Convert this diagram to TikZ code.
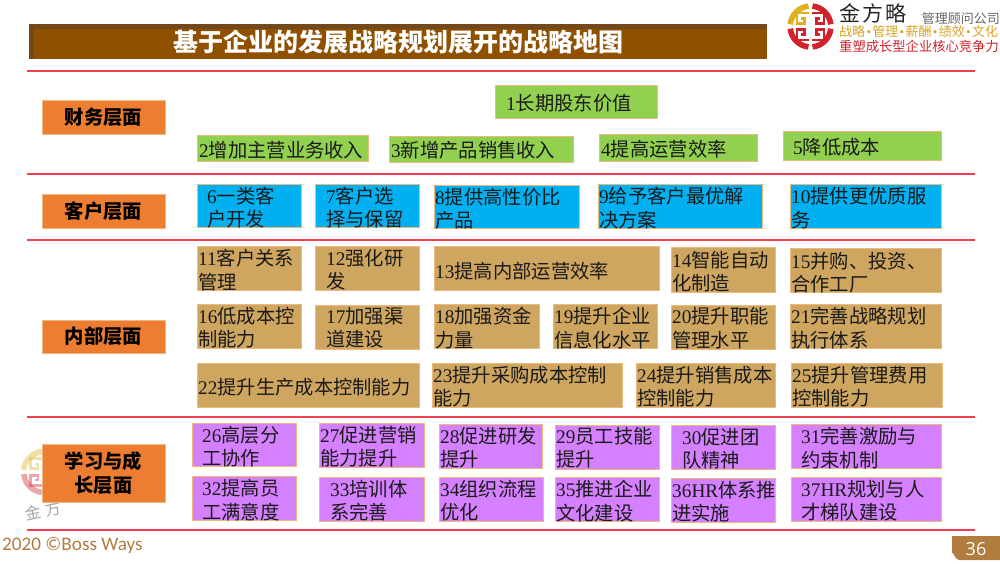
\documentclass[tikz,border=0pt]{standalone}
\usepackage{fontspec}
\setmainfont{Liberation Serif}
\newfontfamily\cjk{Noto Sans CJK SC}
\newfontfamily\uifont{Open Sans}
\newfontfamily\footfont{Carlito}
\definecolor{barbrown}{HTML}{8F5100}
\definecolor{bardark}{HTML}{73481A}
\definecolor{rule}{HTML}{F0414F}
\definecolor{edge}{HTML}{EDB97F}
\definecolor{fin}{HTML}{92D050}
\definecolor{cus}{HTML}{00B0F0}
\definecolor{int}{HTML}{CFA660}
\definecolor{lrn}{HTML}{D580FF}
\definecolor{lab}{HTML}{ED7D31}
\definecolor{ink}{HTML}{1A1A1A}
\definecolor{bronze}{HTML}{B07D3F}
\definecolor{logored}{HTML}{D2232A}
\definecolor{logoyel}{HTML}{E0B01E}
\tikzset{
  stagebox/.style={draw=edge,line width=1pt,inner sep=0pt,outer sep=0pt},
  stagetext/.style={anchor=west,inner sep=0pt,align=left,text=ink,
    font=\cjk\fontsize{19.3}{23.3}\selectfont},
  layerbox/.style={stagebox,fill=lab,align=center,text=black,
    font=\cjk\bfseries\fontsize{19.3}{24.5}\selectfont},
  redrule/.style={draw=rule,line width=1.3pt},
}
% number, x0,y0,x1,y1, text x, text centre y, fill, text
\newcommand{\bx}[9]{%
  \node[stagebox,fill=#8,minimum width={#4-#2},minimum height={#5-#3}] (b#1) at ({(#2+#4)/2},{(#3+#5)/2}) {};
  \node[stagetext] (t#1) at (#6,#7) {{\rmfamily #1}#9};
}
\newcommand{\layerb}[6]{%
  \node[layerbox,minimum width={#4-#2},minimum height={#5-#3}] (#1) at ({(#2+#4)/2},{(#3+#5)/2}) {#6};
}
\newcommand{\dotsep}{\makebox[7.2pt]{\rmfamily\textbullet}}
% logo quadrant in a mirrored scope
\newcommand{\quadr}[3]{%
  \begin{scope}[xscale=#1,yscale=#2]
    \draw[#3,line width=5.6pt] (2,20.4) arc[start angle=84,end angle=6,radius=20.5];
    \draw[#3,line width=2.9pt] (1.8,13.5) -- (13.5,13.5) -- (13.5,3.2) -- (6,3.2) -- (6,8) -- (9.5,8);
  \end{scope}
}
\newcommand{\logo}[1]{%
  \quadr{-1}{1}{logoyel,#1}
  \quadr{1}{1}{logored,#1}
  \quadr{-1}{-1}{logored,#1}
  \quadr{1}{-1}{logored,#1}
}
\begin{document}
\begin{tikzpicture}[x=1pt,y=-1pt]
\useasboundingbox (0,0) rectangle (1000,563);
\fill[white] (0,0) rectangle (1000,563);

% title bar
\fill[bardark] (29,24) rectangle (767,59);
\fill[barbrown] (34,29) rectangle (767,59);
\node[inner sep=0pt,text=white,font=\cjk\bfseries\fontsize{25}{28}\selectfont] (title) at (398,42) {基于企业的发展战略规划展开的战略地图};

% top right logo
\begin{scope}[shift={(810.5,26.5)},y=1pt]
  \logo{}
\end{scope}
\node[inner sep=0pt,text=black!85,font=\cjk\fontsize{21}{24}\selectfont] (brand) at (873,13) {金\hspace{2pt}方\hspace{2pt}略};
\node[anchor=east,inner sep=0pt,text=black!60,font=\cjk\fontsize{13}{15}\selectfont] (firm) at (1000,18.5) {管理顾问公司};
\node[anchor=west,inner sep=0pt,text=logoyel!75!brown,font=\cjk\fontsize{13}{15}\selectfont] (motto) at (839,32) {战略\dotsep 管理\dotsep 薪酬\dotsep 绩效\dotsep 文化};
\node[anchor=west,inner sep=0pt,text=logored,font=\cjk\fontsize{13.3}{15}\selectfont] (slogan) at (839,46) {重塑成长型企业核心竞争力};

% watermark
\begin{scope}[shift={(44,472)},y=1pt]
  \logo{opacity=0.4}
\end{scope}
\node[inner sep=0pt,rotate=12,text=black!35,font=\cjk\fontsize{16}{18}\selectfont] (mark) at (43,511) {金\hspace{5pt}方};

% rules
\foreach \ry in {71,174,240,417,530}{
  \draw[redrule] (27,\ry) -- (975,\ry);
}

% layers
\layerb{lfin}{42}{100}{165}{134}{财务层面}
\layerb{lcus}{42}{194}{165}{228}{客户层面}
\layerb{lint}{42}{320}{165}{353}{内部层面}
\layerb{llrn}{42}{444}{165}{502}{学习与成\\长层面}

% financial
\bx{1}{495}{85}{657}{118}{506}{103}{fin}{长期股东价值}
\bx{2}{197}{135}{368}{161}{199}{150}{fin}{增加主营业务收入}
\bx{3}{389}{136}{573}{162}{391}{150}{fin}{新增产品销售收入}
\bx{4}{599}{134}{757}{161}{601}{149}{fin}{提高运营效率}
\bx{5}{783}{131}{941}{160}{793}{147}{fin}{降低成本}
% customer
\bx{6}{197}{184}{301}{227}{207}{207.5}{cus}{一类客\\户开发}
\bx{7}{315}{184}{419}{227}{326}{207.5}{cus}{客户选\\择与保留}
\bx{8}{434}{185}{579}{228}{435}{208.5}{cus}{提供高性价比\\产品}
\bx{9}{598}{184}{762}{228}{599}{208}{cus}{给予客户最优解\\决方案}
\bx{10}{790}{184}{941}{228}{791}{208}{cus}{提供更优质服\\务}
% internal
\bx{11}{197}{246}{301}{290}{198}{270}{int}{客户关系\\管理}
\bx{12}{315}{246}{419}{290}{326}{270}{int}{强化研\\发}
\bx{13}{434}{246}{659}{290}{435}{271}{int}{提高内部运营效率}
\bx{14}{671}{247}{775}{292}{672}{271.5}{int}{智能自动\\化制造}
\bx{15}{790}{248}{941}{292}{791}{272.5}{int}{并购、投资、\\合作工厂}
\bx{16}{197}{304}{301}{348}{198}{327.5}{int}{低成本控\\制能力}
\bx{17}{315}{305}{419}{349}{326}{328}{int}{加强渠\\道建设}
\bx{18}{434}{304}{539}{348}{435}{328}{int}{加强资金\\力量}
\bx{19}{553}{304}{657}{348}{554}{328}{int}{提升企业\\信息化水平}
\bx{20}{671}{305}{775}{349}{672}{328}{int}{提升职能\\管理水平}
\bx{21}{790}{304}{941}{348}{791}{328}{int}{完善战略规划\\执行体系}
\bx{22}{197}{363}{419}{407}{198}{387}{int}{提升生产成本控制能力}
\bx{23}{432}{363}{622}{407}{433}{386.5}{int}{提升采购成本控制\\能力}
\bx{24}{636}{363}{775}{407}{637}{387}{int}{提升销售成本\\控制能力}
\bx{25}{791}{363}{942}{407}{792}{387}{int}{提升管理费用\\控制能力}
% learning
\bx{26}{192}{423}{296}{466}{202}{446.5}{lrn}{高层分\\工协作}
\bx{27}{319}{423}{424}{467}{320}{447}{lrn}{促进营销\\能力提升}
\bx{28}{439}{424}{542}{468}{440}{447.5}{lrn}{促进研发\\提升}
\bx{29}{555}{425}{659}{469}{556}{448}{lrn}{员工技能\\提升}
\bx{30}{671}{425}{775}{469}{682}{449}{lrn}{促进团\\队精神}
\bx{31}{791}{424}{941}{468}{801}{448}{lrn}{完善激励与\\约束机制}
\bx{32}{192}{476}{296}{520}{202}{500}{lrn}{提高员\\工满意度}
\bx{33}{319}{477}{424}{521}{330}{500.5}{lrn}{培训体\\系完善}
\bx{34}{439}{477}{543}{521}{440}{501}{lrn}{组织流程\\优化}
\bx{35}{555}{477}{659}{521}{556}{501}{lrn}{推进企业\\文化建设}
\bx{36HR}{671}{478}{775}{522}{672}{502}{lrn}{体系推\\进实施}
\bx{37HR}{791}{477}{941}{521}{801}{501}{lrn}{规划与人\\才梯队建设}

% footer
\node[anchor=west,inner sep=0pt,text=bronze,font=\footfont\fontsize{19.2}{22}\selectfont] (foot) at (2,545) {2020 ©Boss Ways};
\fill[bronze] (952,536) -- (1000,536) -- (1000,560) -- (959,560) to[out=180,in=90] (952,553) -- cycle;
\node[inner sep=0pt,text=white,font=\uifont\fontsize{18}{20}\selectfont] (page) at (976,549) {36};
\end{tikzpicture}
\end{document}
